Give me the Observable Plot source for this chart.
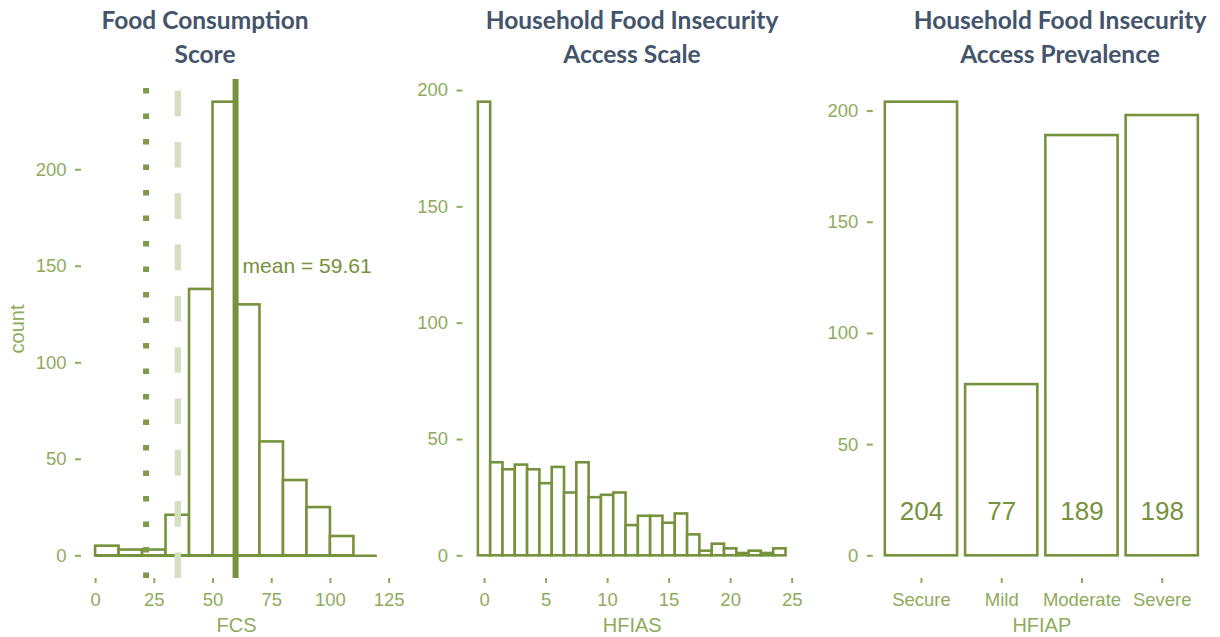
<!DOCTYPE html>
<html>
<head>
<meta charset="utf-8">
<script src="https://cdn.jsdelivr.net/npm/d3@7"></script>
<script src="https://cdn.jsdelivr.net/npm/@observablehq/plot@0.6"></script>
<style>
  body { margin: 0; background: #fff; }
  #chart { position: relative; width: 1220px; height: 637px; overflow: hidden; background: #fff; }
  .title {
    position: absolute; top: 3px; transform: translateX(-50%);
    font-family: Lato, "Open Sans", sans-serif; font-weight: 700; font-size: 24.5px;
    line-height: 34px; color: #44546a; text-align: center; white-space: nowrap;
  }
  .panel { position: absolute; top: 70px; }
</style>
</head>
<body>
<div id="chart"></div>
<script>
// Food Consumption Score histogram (bins of width 10)
const fcsBinWidth = 10;
const fcsBinStarts = [0, 10, 20, 30, 40, 50, 60, 70, 80, 90, 100, 110];
const fcsCounts = [5, 3, 3, 21, 138, 235, 130, 59, 39, 25, 10, 0];
const fcsMean = 59.61;
const fcsPoorCut = 21.5;
const fcsBorderlineCut = 35;
const fcsTicks = [0, 25, 50, 75, 100, 125];

// HFIAS histogram (one bin per integer score)
const hfiasScores = [0, 1, 2, 3, 4, 5, 6, 7, 8, 9, 10, 11, 12, 13, 14, 15, 16, 17, 18, 19, 20, 21, 22, 23, 24];
const hfiasCounts = [195, 40, 37, 39, 37, 31, 38, 27, 40, 25, 26, 27, 13, 17, 17, 14, 18, 9, 2, 5, 3, 1, 2, 1, 3];
const hfiasTicks = [0, 5, 10, 15, 20, 25];

// HFIAP categories
const hfiapCategories = ["Secure", "Mild", "Moderate", "Severe"];
const hfiapCounts = [204, 77, 189, 198];

const countTicks = [0, 50, 100, 150, 200];

// Styling
const olive = "#76923c";
const axisColor = "#8fab5c";
const dottedColor = "#7f9a48";
const dashedColor = "#d3dfbf";
const barStroke = 2.6;
const meanLabelCount = 150;  // height of the mean annotation
const barLabelCount = 20;    // height of the count labels inside bars

// ggplot-style 5% expansion of a continuous range
const expand = (lo, hi) => [lo - 0.05 * (hi - lo), hi + 0.05 * (hi - lo)];

const common = {
  height: 567,
  marginTop: 9,
  marginBottom: 59,
  style: {
    fontFamily: "'Liberation Sans', Arial, sans-serif",
    fontSize: "18.5px",
    color: axisColor,
    background: "transparent",
    overflow: "visible"
  }
};

const xAxisOpts = {tickSize: 5, tickPadding: 9, strokeWidth: 2, label: null};
const yAxisOpts = {ticks: countTicks, tickSize: 6, tickPadding: 9, strokeWidth: 2, label: null};
const xTitle = (label) => Plot.text([label], {frameAnchor: "bottom", dy: 47, lineAnchor: "middle", textAnchor: "middle", fontSize: 20});

// ---- Panel 1: FCS ----
const fcsTable = fcsBinStarts.map((s, i) => ({x1: s, x2: s + fcsBinWidth, count: fcsCounts[i]}));
const fcsX = expand(fcsBinStarts[0], fcsBinStarts[fcsBinStarts.length - 1] + fcsBinWidth);
const fcsY = expand(0, d3.max(fcsCounts));

const plotFCS = Plot.plot({
  ...common,
  width: 400,
  marginLeft: 81,
  marginRight: 9,
  x: {domain: fcsX},
  y: {domain: fcsY},
  marks: [
    Plot.rectY(fcsTable.filter(d => d.count > 0), {x1: "x1", x2: "x2", y1: 0, y2: "count", fill: "white", stroke: olive, strokeWidth: barStroke}),
    Plot.ruleY([0], {x1: fcsBinStarts[0], x2: fcsBinStarts[fcsBinStarts.length - 1] + fcsBinWidth, stroke: olive, strokeWidth: barStroke}),
    Plot.ruleX([fcsPoorCut], {y1: fcsY[0], y2: fcsY[1], stroke: dottedColor, strokeWidth: 6, strokeDasharray: "5.5 20"}),
    Plot.ruleX([fcsBorderlineCut], {y1: fcsY[0], y2: fcsY[1], stroke: dashedColor, strokeWidth: 6.3, strokeDasharray: "25.6 25.7"}),
    Plot.ruleX([fcsMean], {y1: fcsY[0], y2: fcsY[1], stroke: olive, strokeWidth: 6}),
    Plot.text([fcsMean], {x: d => d, y: meanLabelCount, dx: 7, text: d => `mean = ${d.toFixed(2)}`, textAnchor: "start", fill: olive, fontSize: 21}),
    Plot.axisX({...xAxisOpts, ticks: fcsTicks}),
    Plot.axisY(yAxisOpts),
    xTitle("FCS"),
    Plot.text(["count"], {frameAnchor: "left", dx: -63.5, rotate: -90, textAnchor: "middle", lineAnchor: "middle", fontSize: 20})
  ]
});

// ---- Panel 2: HFIAS ----
const hfiasTable = hfiasScores.map((s, i) => ({x1: s - 0.5, x2: s + 0.5, count: hfiasCounts[i]}));
const hfiasX = expand(hfiasScores[0] - 0.5, hfiasScores[hfiasScores.length - 1] + 0.5);
const hfiasY = expand(0, d3.max(hfiasCounts));

const plotHFIAS = Plot.plot({
  ...common,
  width: 410,
  marginLeft: 62.5,
  marginRight: 9.1,
  x: {domain: hfiasX},
  y: {domain: hfiasY},
  marks: [
    Plot.rectY(hfiasTable, {x1: "x1", x2: "x2", y1: 0, y2: "count", fill: "white", stroke: olive, strokeWidth: barStroke}),
    Plot.axisX({...xAxisOpts, ticks: hfiasTicks}),
    Plot.axisY(yAxisOpts),
    xTitle("HFIAS")
  ]
});

// ---- Panel 3: HFIAP ----
const hfiapTable = hfiapCategories.map((c, i) => ({category: c, count: hfiapCounts[i]}));
const hfiapY = expand(0, d3.max(hfiapCounts));

const plotHFIAP = Plot.plot({
  ...common,
  width: 410,
  marginLeft: 62.8,
  marginRight: 10.1,
  x: {domain: hfiapCategories, paddingInner: 0.1, paddingOuter: 0.15, round: false},
  y: {domain: hfiapY},
  marks: [
    Plot.barY(hfiapTable, {x: "category", y: "count", fill: "white", stroke: olive, strokeWidth: barStroke}),
    Plot.text(hfiapTable, {x: "category", y: barLabelCount, text: d => String(d.count), fill: olive, fontSize: 26}),
    Plot.axisX(xAxisOpts),
    Plot.axisY(yAxisOpts),
    xTitle("HFIAP")
  ]
});

// ---- Layout ----
const chart = document.getElementById("chart");
const panels = [
  {left: 0, plot: plotFCS, title: ["Food Consumption", "Score"], center: 205},
  {left: 400, plot: plotHFIAS, title: ["Household Food Insecurity", "Access Scale"], center: 632},
  {left: 810, plot: plotHFIAP, title: ["Household Food Insecurity", "Access Prevalence"], center: 1060}
];
for (const p of panels) {
  const wrap = document.createElement("div");
  wrap.className = "panel";
  wrap.style.left = p.left + "px";
  wrap.appendChild(p.plot);
  chart.appendChild(wrap);

  const t = document.createElement("div");
  t.className = "title";
  t.style.left = p.center + "px";
  p.title.forEach((line, i) => {
    if (i) t.appendChild(document.createElement("br"));
    t.appendChild(document.createTextNode(line));
  });
  chart.appendChild(t);
}
</script>
</body>
</html>
